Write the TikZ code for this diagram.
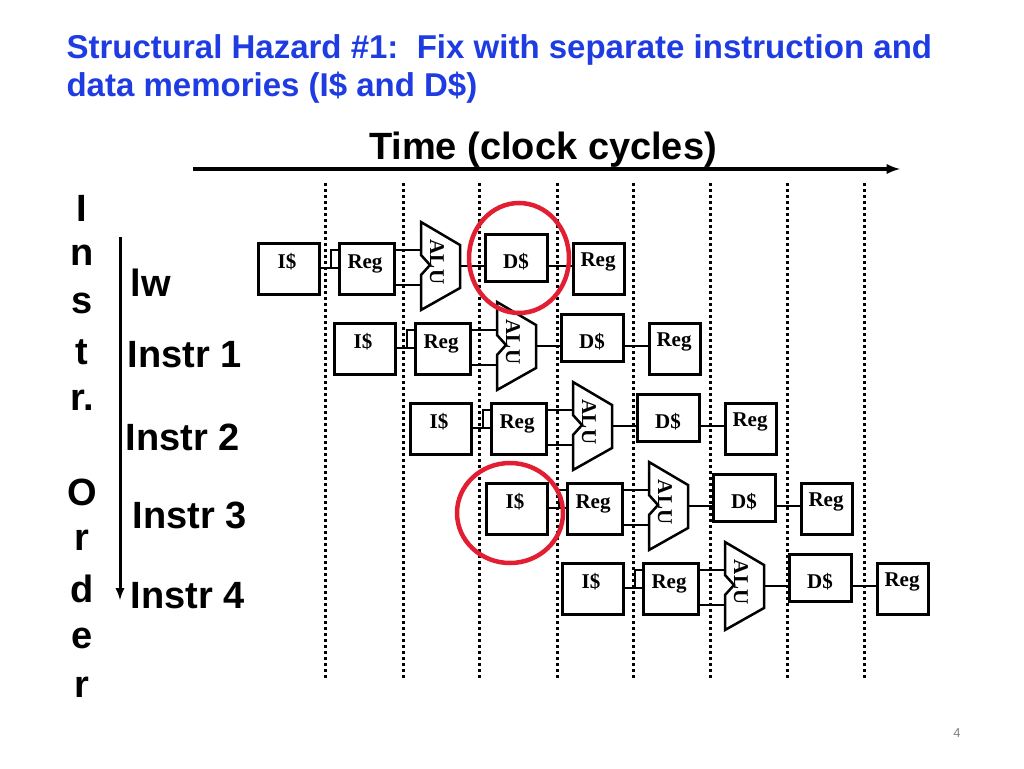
\documentclass[tikz,border=0pt]{standalone}
\usepackage{fontspec}
\setmainfont{Liberation Sans}
\newfontfamily\boxfont{Liberation Serif}
\usetikzlibrary{positioning}
\definecolor{titleblue}{RGB}{30,60,225}
\definecolor{hazred}{RGB}{225,30,50}
\begin{document}
\begin{tikzpicture}[x=1pt,y=-1pt,line width=2.5pt,
    unit/.style={draw, fill=white, anchor=north west, inner sep=0pt},
    utext/.style={font=\boxfont\bfseries\fontsize{21}{21}\selectfont},
    big/.style={font=\bfseries\fontsize{38}{38}\selectfont},
    grid/.style={line width=3pt, dash pattern=on 3pt off 3pt}]
    \useasboundingbox (0,0) rectangle (1024,768);

    % title
    \node[anchor=north west, align=left, text=titleblue, font=\bfseries\fontsize{33}{38}\selectfont] (title) at (62,30)
        {Structural Hazard \#1:\ \ Fix with separate instruction and\\data memories (I\$ and D\$)};
    \node[font=\bfseries\fontsize{38}{38}\selectfont] (time) at (543,150) {Time (clock cycles)};
    \draw[-latex, line width=3.5pt] (193,169) -- (900,169);

    % clock cycle boundaries
    \foreach \x in {325,403,479,557,633,710,787,864}
        \draw[grid] (\x,183) -- (\x,680);

    % instruction order
    \foreach \c/\y in {I/208,n/255,s/303,t/352,r./400,O/492,r/540,d/589,e/638,r/687}
        \node[big] at (82,\y) {\c};
    \draw[-latex, line width=3pt] (120,237) -- (120,600);
    \node[big, anchor=west] (lw) at (126,283) {lw};
    \node[big, anchor=west] (in1) at (123,355) {Instr 1};
    \node[big, anchor=west] (in2) at (121,437) {Instr 2};
    \node[big, anchor=west] (in3) at (128,515) {Instr 3};
    \node[big, anchor=west] (in4) at (126,596) {Instr 4};

    % pipeline rows
    \foreach \i in {0,...,4} {
      \begin{scope}[shift={(76*\i,80*\i)}]
        \node[unit, minimum width=61pt, minimum height=51pt] (is\i) at (257,242) {};
        \node[utext] at (287,262) {I\$};
        \node[unit, minimum width=55pt, minimum height=51pt] (ra\i) at (338,242) {};
        \node[utext] at (365,264) {Reg};
        \coordinate (ra\i a) at (421,250);
        \coordinate (ra\i b) at (421,285);
        \draw (318,268) -| (331,250) -- (338,250);
        \draw (331,268) -- (338,268);
        \draw (393,250) -- (ra\i a);
        \draw (393,285) -- (ra\i b);
        \draw[fill=white] (421,222) -- (460,245) -- (460,288) -- (421,310) -- (421,275)
            -- (430,265) -- (421,255) -- cycle;
        \coordinate (alu\i) at (460,266);
        \node[rotate=-90, utext] at (437,262) {ALU};
        \node[unit, minimum width=62pt, minimum height=47pt] (ds\i) at (484,233) {};
        \node[utext] at (516,262) {D\$};
        \node[unit, minimum width=51pt, minimum height=51pt] (rb\i) at (572,242) {};
        \node[utext] at (598,262) {Reg};
        \draw (alu\i) -- (ds\i.west |- alu\i);
        \draw (ds\i.east |- alu\i) -- (rb\i.west |- alu\i);
      \end{scope}
    }

    % hazards
    \draw[hazred, line width=4.5pt] (519,258) ellipse (50 and 55);
    \draw[hazred, line width=4.5pt] (510,513) ellipse (53 and 50);

    \node[text=gray, font=\fontsize{13}{13}\selectfont] (page) at (957,733) {4};
\end{tikzpicture}
\end{document}
